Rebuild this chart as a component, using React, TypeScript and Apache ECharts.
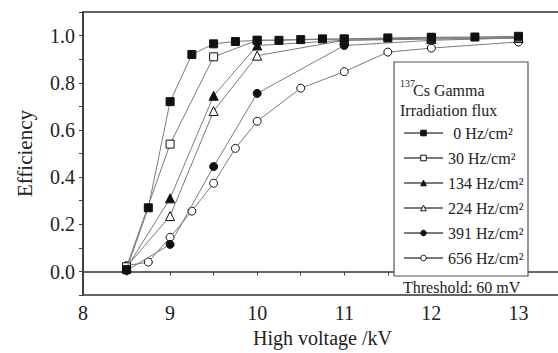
import React, { useEffect, useRef } from "react";
import * as echarts from "echarts";

// ---- data ----
const seriesNames = [
  "0 Hz/cm²",
  "30 Hz/cm²",
  "134 Hz/cm²",
  "224 Hz/cm²",
  "391 Hz/cm²",
  "656 Hz/cm²",
];

const voltage0 = [8.5, 8.75, 9, 9.25, 9.5, 9.75, 10, 10.25, 10.5, 10.75, 11, 11.5, 12, 12.5, 13];
const eff0 = [0.008, 0.27, 0.72, 0.92, 0.965, 0.975, 0.98, 0.98, 0.983, 0.986, 0.986, 0.99, 0.993, 0.994, 0.997];

const voltage30 = [8.5, 9, 9.5, 10, 11, 12, 13];
const eff30 = [0.02, 0.54, 0.91, 0.98, 0.985, 0.99, 0.99];

const voltage134 = [8.5, 9, 9.5, 10, 11, 12, 13];
const eff134 = [0.015, 0.31, 0.745, 0.958, 0.98, 0.99, 0.99];

const voltage224 = [8.5, 9, 9.5, 10, 11, 12, 13];
const eff224 = [0.02, 0.235, 0.68, 0.915, 0.98, 0.985, 0.99];

const voltage391 = [8.5, 9, 9.5, 10, 11, 12, 13];
const eff391 = [0.004, 0.115, 0.445, 0.755, 0.958, 0.98, 0.99];

const voltage656 = [8.5, 8.75, 9, 9.25, 9.5, 9.75, 10, 10.5, 11, 11.5, 12, 13];
const eff656 = [0.025, 0.04, 0.145, 0.256, 0.374, 0.522, 0.637, 0.777, 0.847, 0.93, 0.947, 0.973];

const xTickLabels = ["8", "9", "10", "11", "12", "13"];
const yTickLabels = ["0.0", "0.2", "0.4", "0.6", "0.8", "1.0"];

const serif = "Liberation Serif";

export default function App() {
  const ref = useRef<HTMLDivElement>(null);

  useEffect(() => {
    if (!ref.current) return;
    const chart = echarts.init(ref.current, null, { renderer: "svg" });

    const xs = [voltage0, voltage30, voltage134, voltage224, voltage391, voltage656];
    const ys = [eff0, eff30, eff134, eff224, eff391, eff656];
    const symbols = ["rect", "rect", "triangle", "triangle", "circle", "circle"];
    const filled = [true, false, true, false, true, false];
    const sizes = [8, 8, 9, 9, 8, 8];

    const series = seriesNames.map((name, i) => ({
      name,
      type: "line",
      data: xs[i].map((x, j) => [x, ys[i][j]]),
      symbol: symbols[i],
      symbolSize: sizes[i],
      showAllSymbol: true,
      lineStyle: { color: "#7a7a7a", width: 1 },
      itemStyle: {
        color: filled[i] ? "#111" : "#fff",
        borderColor: "#111",
        borderWidth: 1,
      },
      z: 10 - i,
    }));

    const fmtX = (v: number) => {
      const s = String(Math.round(v * 100) / 100);
      return xTickLabels.includes(s) ? s : "";
    };
    const fmtY = (v: number) => {
      const s = (Math.round(v * 10) / 10).toFixed(1);
      return yTickLabels.includes(s) ? s : "";
    };

    chart.setOption({
      animation: false,
      backgroundColor: "#fff",
      textStyle: { fontFamily: serif },
      grid: {
        left: 83,
        top: 12,
        right: 4,
        bottom: 53,
        show: true,
        borderColor: "#333",
        borderWidth: 1.5,
      },
      xAxis: {
        type: "value",
        min: 8,
        max: 13.5,
        interval: 0.5,
        name: "High voltage /kV",
        nameLocation: "middle",
        nameGap: 30,
        nameTextStyle: { fontFamily: serif, fontSize: 20, color: "#222" },
        axisLine: { show: true, lineStyle: { color: "#333", width: 1.5 } },
        axisTick: { show: true, inside: false, length: 4, lineStyle: { color: "#444" } },
        axisLabel: {
          formatter: fmtX,
          fontFamily: serif,
          fontSize: 20,
          color: "#222",
          margin: 8,
        },
        splitLine: { show: false },
      },
      yAxis: {
        type: "value",
        min: -0.1,
        max: 1.1,
        interval: 0.1,
        name: "Efficiency",
        nameLocation: "middle",
        nameGap: 48,
        nameTextStyle: { fontFamily: serif, fontSize: 21, color: "#222" },
        axisLine: { show: true, lineStyle: { color: "#333", width: 1.5 } },
        axisTick: { show: true, inside: false, length: 4, lineStyle: { color: "#444" } },
        axisLabel: {
          formatter: fmtY,
          fontFamily: serif,
          fontSize: 20,
          color: "#222",
          margin: 8,
        },
        splitLine: { show: false },
      },
      legend: {
        data: seriesNames,
        orient: "vertical",
        left: 403,
        top: 123,
        padding: 0,
        itemWidth: 39,
        itemHeight: 7,
        itemGap: 5,
        formatter: (name: string) => (name.startsWith("0 ") ? "\u00a0\u200a" + name : name),
        itemStyle: { borderWidth: 1 },
        textStyle: {
          fontFamily: serif,
          fontSize: 16,
          color: "#222",
          lineHeight: 20,
        },
        z: 6,
      },
      graphic: [
        {
          type: "rect",
          z: 5,
          shape: { x: 394, y: 62, width: 134, height: 214 },
          style: { fill: "#fff", stroke: "#555", lineWidth: 1.2 },
        },
        {
          type: "text",
          z: 6,
          x: 400,
          y: 83,
          style: {
            text: "137",
            fontFamily: serif,
            fontSize: 10,
            fill: "#222",
            verticalAlign: "middle",
          },
        },
        {
          type: "text",
          z: 6,
          x: 413,
          y: 90,
          style: {
            text: "Cs Gamma",
            fontFamily: serif,
            fontSize: 16,
            fill: "#222",
            verticalAlign: "middle",
          },
        },
        {
          type: "text",
          z: 6,
          x: 400,
          y: 110,
          style: {
            text: "Irradiation flux",
            fontFamily: serif,
            fontSize: 16,
            fill: "#222",
            verticalAlign: "middle",
          },
        },
        {
          type: "text",
          z: 6,
          x: 403,
          y: 287,
          style: {
            text: "Threshold: 60 mV",
            fontFamily: serif,
            fontSize: 16,
            fill: "#222",
            verticalAlign: "middle",
          },
        },
      ],
      series,
    });

    return () => chart.dispose();
  }, []);

  return (
    <div
      style={{
        position: "fixed",
        left: 0,
        top: 0,
        width: 558,
        height: 353,
        overflow: "hidden",
        background: "#fff",
      }}
    >
      <div ref={ref} style={{ width: 566, height: 353 }} />
    </div>
  );
}
